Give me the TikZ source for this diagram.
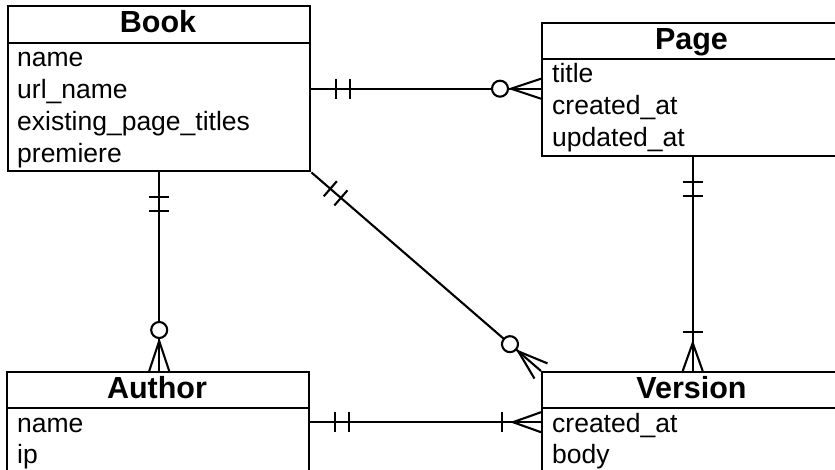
\documentclass[tikz,border=0pt]{standalone}
\usepackage{fontspec}
\setmainfont{Liberation Sans}
\usetikzlibrary{decorations.markings}
\tikzset{
  ent/.style={draw, line width=2.4pt, anchor=north west, inner sep=0pt},
  divider/.style={line width=2.4pt},
  ttl/.style={anchor=base, inner sep=0pt, font=\fontsize{30.5}{36}\selectfont\bfseries},
  attr/.style={anchor=base west, inner sep=0pt, font=\fontsize{26.5}{31}\selectfont},
  rel/.style={line width=2.1pt},
  oneonly/.style={postaction={decorate, decoration={markings,
     mark=at position 25pt with {\draw[line width=2.1pt] (0pt,-10pt)--(0pt,10pt);},
     mark=at position 39pt with {\draw[line width=2.1pt] (0pt,-10pt)--(0pt,10pt);}}}},
  zeromany/.style={postaction={decorate, decoration={markings,
     mark=at position -41pt with {\draw[line width=2.1pt, fill=white] (0pt,0pt) circle (8pt);},
     mark=at position -30pt with {\draw[line width=2.1pt] (30pt,10pt)--(0pt,0pt)--(30pt,-10pt);}}}},
  onemany/.style={postaction={decorate, decoration={markings,
     mark=at position -39pt with {\draw[line width=2.1pt] (0pt,-10pt)--(0pt,10pt);},
     mark=at position -28pt with {\draw[line width=2.1pt] (28pt,10pt)--(0pt,0pt)--(28pt,-10pt);}}}}
}
\begin{document}
\begin{tikzpicture}[x=1pt,y=-1pt]
\useasboundingbox (0,0) rectangle (835,470);
\fill[white] (0,0) rectangle (835,470);

% Book
\node[ent, minimum width=302pt, minimum height=165pt] (book) at (7,5) {};
\draw[divider] ([yshift=-38pt]book.north west) -- ([yshift=-38pt]book.north east);
\node[ttl] (booktitle) at (158,33) {Book};
\node[attr] (b1) at (17,67) {name};
\node[attr] (b2) at (17,99) {url\_name};
\node[attr] (b3) at (17,131) {existing\_page\_titles};
\node[attr] (b4) at (17,162.5) {premiere};

% Page
\node[ent, minimum width=301pt, minimum height=133pt] (page) at (541,22) {};
\draw[divider] ([yshift=-37pt]page.north west) -- ([yshift=-37pt]page.north east);
\node[ttl] (pagetitle) at (691.5,50) {Page};
\node[attr] (p1) at (552,83) {title};
\node[attr] (p2) at (552,115) {created\_at};
\node[attr] (p3) at (552,147) {updated\_at};

% Author
\node[ent, minimum width=302pt, minimum height=110pt] (author) at (6,371) {};
\draw[divider] ([yshift=-37pt]author.north west) -- ([yshift=-37pt]author.north east);
\node[ttl] (authortitle) at (157,398) {Author};
\node[attr] (a1) at (17,432) {name};
\node[attr] (a2) at (17,463.5) {ip};

% Version
\node[ent, minimum width=301pt, minimum height=110pt] (version) at (541,371) {};
\draw[divider] ([yshift=-37pt]version.north west) -- ([yshift=-37pt]version.north east);
\node[ttl] (versiontitle) at (691.5,398) {Version};
\node[attr] (v1) at (552,432) {created\_at};
\node[attr] (v2) at (552,463.5) {body};

% Relations
\draw[rel, oneonly, zeromany] (book.east) -- (book.east -| page.west);
\draw[rel, oneonly, zeromany] (book.south) -- (book.south |- author.north);
\draw[rel, oneonly, zeromany] (book.south east) -- (version.north west);
\draw[rel, oneonly, onemany] (page.south) -- (version.north);
\draw[rel, oneonly, onemany] ([yshift=5pt]author.east) -- ([yshift=5pt]author.east -| version.west);
\end{tikzpicture}
\end{document}
